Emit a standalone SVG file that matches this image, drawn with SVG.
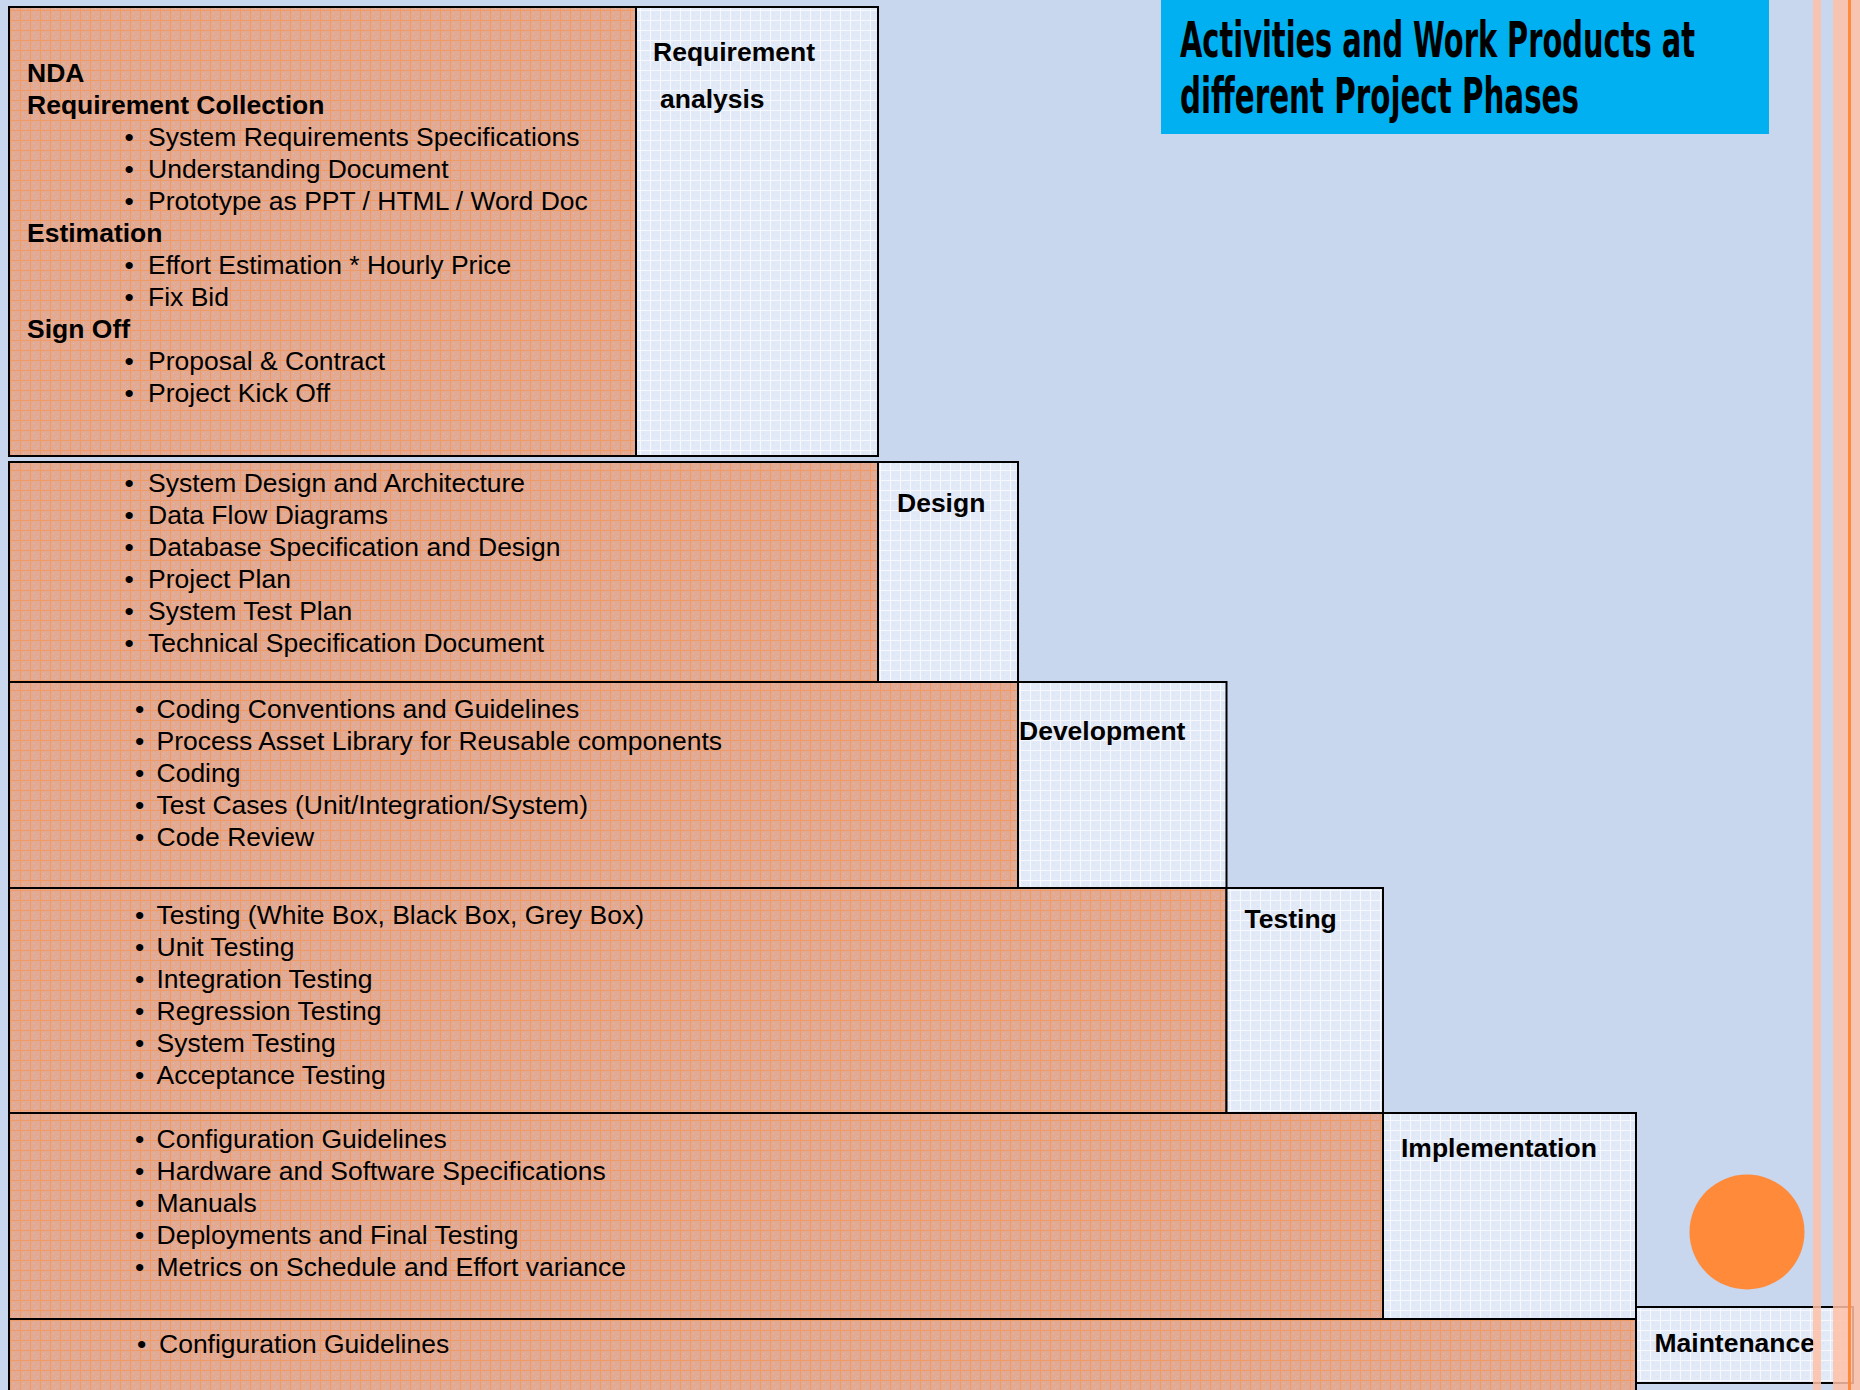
<svg xmlns="http://www.w3.org/2000/svg" width="1860" height="1390" viewBox="0 0 1860 1390">
<defs>
<style>
.t{font-family:"Liberation Sans",Arial,sans-serif;font-size:26.5px;fill:#000}
.b{font-weight:bold}
.box{stroke:#000;stroke-width:2}
.or{fill:url(#po)}
.lt{fill:url(#pl)}
.title{font-family:"Liberation Sans Narrow","DejaVu Sans Condensed","Liberation Sans",sans-serif;font-weight:bold;font-size:50px;fill:#000}
</style>
<pattern id="po" width="10" height="10" patternUnits="userSpaceOnUse">
<rect width="10" height="10" fill="#E2AA93"/>
<rect x="3" y="3" width="1" height="1" fill="#D9BCBE"/>
<rect x="7" y="6" width="1" height="1" fill="#D9BCBE"/>
<rect x="5" y="8" width="1" height="1" fill="#D9BCBE"/>
<path d="M0 0.5H10M0.5 0V10" stroke="#F09A66" stroke-width="1"/>
</pattern>
<pattern id="pl" width="10" height="10" patternUnits="userSpaceOnUse">
<rect width="10" height="10" fill="#E3EAF7"/>
<rect x="3" y="3" width="1" height="1" fill="#D6DFF0"/>
<rect x="7" y="6" width="1" height="1" fill="#D6DFF0"/>
<path d="M0 0.5H10M0.5 0V10" stroke="#F6F8FD" stroke-width="1"/>
</pattern>
</defs>
<rect width="1860" height="1390" fill="#C8D6EE"/>

<g id="title">
<rect x="1161" y="0" width="608" height="134" fill="#00B0F0"/>
<text class="title" transform="translate(1180 57) scale(0.5 1)" x="0" y="0" textLength="1030" lengthAdjust="spacingAndGlyphs">Activities and Work Products at</text>
<text class="title" transform="translate(1180 113) scale(0.5 1)" x="0" y="0" textLength="798" lengthAdjust="spacingAndGlyphs">different Project Phases</text>
</g>

<g id="phase-requirement">
<rect class="box or" x="9" y="7" width="627" height="449"/>
<rect class="box lt" x="636" y="7" width="242" height="449"/>
<text class="t b" x="27" y="81.7">NDA</text>
<text class="t b" x="27" y="113.7">Requirement Collection</text>
<text class="t" x="124.5" y="145.7">•</text><text class="t" x="148" y="145.7">System Requirements Specifications</text>
<text class="t" x="124.5" y="177.7">•</text><text class="t" x="148" y="177.7">Understanding Document</text>
<text class="t" x="124.5" y="209.7">•</text><text class="t" x="148" y="209.7">Prototype as PPT / HTML / Word Doc</text>
<text class="t b" x="27" y="241.7">Estimation</text>
<text class="t" x="124.5" y="273.7">•</text><text class="t" x="148" y="273.7">Effort Estimation * Hourly Price</text>
<text class="t" x="124.5" y="305.7">•</text><text class="t" x="148" y="305.7">Fix Bid</text>
<text class="t b" x="27" y="337.7">Sign Off</text>
<text class="t" x="124.5" y="369.7">•</text><text class="t" x="148" y="369.7">Proposal &amp; Contract</text>
<text class="t" x="124.5" y="401.7">•</text><text class="t" x="148" y="401.7">Project Kick Off</text>
<text class="t b" x="653" y="61">Requirement</text>
<text class="t b" x="660" y="108">analysis</text>
</g>

<g id="phase-design">
<rect class="box or" x="9" y="462" width="869" height="220"/>
<rect class="box lt" x="878" y="462" width="140" height="220"/>
<text class="t" x="124.5" y="491.7">•</text><text class="t" x="148" y="491.7">System Design and Architecture</text>
<text class="t" x="124.5" y="523.7">•</text><text class="t" x="148" y="523.7">Data Flow Diagrams</text>
<text class="t" x="124.5" y="555.7">•</text><text class="t" x="148" y="555.7">Database Specification and Design</text>
<text class="t" x="124.5" y="587.7">•</text><text class="t" x="148" y="587.7">Project Plan</text>
<text class="t" x="124.5" y="619.7">•</text><text class="t" x="148" y="619.7">System Test Plan</text>
<text class="t" x="124.5" y="651.7">•</text><text class="t" x="148" y="651.7">Technical Specification Document</text>
<text class="t b" x="897" y="511.5">Design</text>
</g>

<g id="phase-development">
<rect class="box or" x="9" y="682" width="1009" height="206"/>
<rect class="box lt" x="1018" y="682" width="208.5" height="206"/>
<text class="t" x="135" y="717.7">•</text><text class="t" x="156.5" y="717.7">Coding Conventions and Guidelines</text>
<text class="t" x="135" y="749.7">•</text><text class="t" x="156.5" y="749.7">Process Asset Library for Reusable components</text>
<text class="t" x="135" y="781.7">•</text><text class="t" x="156.5" y="781.7">Coding</text>
<text class="t" x="135" y="813.7">•</text><text class="t" x="156.5" y="813.7">Test Cases (Unit/Integration/System)</text>
<text class="t" x="135" y="845.7">•</text><text class="t" x="156.5" y="845.7">Code Review</text>
<text class="t b" x="1019" y="740">Development</text>
</g>

<g id="phase-testing">
<rect class="box or" x="9" y="888" width="1217.5" height="225"/>
<rect class="box lt" x="1226.5" y="888" width="156.5" height="225"/>
<text class="t" x="135" y="923.7">•</text><text class="t" x="156.5" y="923.7">Testing (White Box, Black Box, Grey Box)</text>
<text class="t" x="135" y="955.7">•</text><text class="t" x="156.5" y="955.7">Unit Testing</text>
<text class="t" x="135" y="987.7">•</text><text class="t" x="156.5" y="987.7">Integration Testing</text>
<text class="t" x="135" y="1019.7">•</text><text class="t" x="156.5" y="1019.7">Regression Testing</text>
<text class="t" x="135" y="1051.7">•</text><text class="t" x="156.5" y="1051.7">System Testing</text>
<text class="t" x="135" y="1083.7">•</text><text class="t" x="156.5" y="1083.7">Acceptance Testing</text>
<text class="t b" x="1244.5" y="927.6">Testing</text>
</g>

<g id="phase-implementation">
<rect class="box or" x="9" y="1113" width="1374" height="206"/>
<rect class="box lt" x="1383" y="1113" width="253" height="206"/>
<text class="t" x="135" y="1148.3">•</text><text class="t" x="156.5" y="1148.3">Configuration Guidelines</text>
<text class="t" x="135" y="1180.3">•</text><text class="t" x="156.5" y="1180.3">Hardware and Software Specifications</text>
<text class="t" x="135" y="1212.3">•</text><text class="t" x="156.5" y="1212.3">Manuals</text>
<text class="t" x="135" y="1244.3">•</text><text class="t" x="156.5" y="1244.3">Deployments and Final Testing</text>
<text class="t" x="135" y="1276.3">•</text><text class="t" x="156.5" y="1276.3">Metrics on Schedule and Effort variance</text>
<text class="t b" x="1401" y="1156.6">Implementation</text>
</g>

<g id="phase-maintenance">
<rect class="box or" x="9" y="1319" width="1627" height="90"/>
<rect class="box lt" x="1636" y="1307" width="217" height="76"/>
<text class="t" x="137" y="1353">•</text><text class="t" x="159" y="1353">Configuration Guidelines</text>
<text class="t b" x="1654.5" y="1351.7">Maintenance</text>
</g>

<g id="connectors"/>

<g id="decor">
<circle cx="1747" cy="1232" r="57.5" fill="#FE8A3A"/>
<rect x="1813" y="0" width="8" height="1390" fill="#FFC1A7" fill-opacity="0.85"/>
<rect x="1833" y="0" width="27" height="1390" fill="#FFC1A7" fill-opacity="0.85"/>
<rect x="1848" y="0" width="3" height="1390" fill="#FF8A3C"/>
</g>
</svg>
